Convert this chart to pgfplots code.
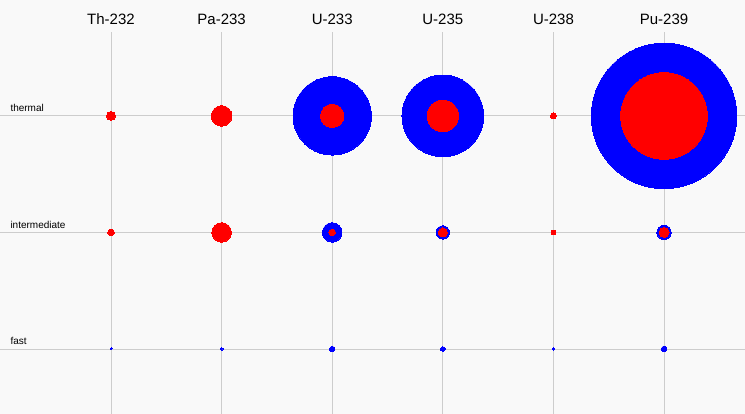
\documentclass[border=0pt]{standalone}
\usepackage{fontspec}
\setmainfont{Liberation Sans}
\usepackage{pgfplots}
\usepackage{pgfplotstable}
\pgfplotsset{compat=1.18}

% columns: 0=Th-232 1=Pa-233 2=U-233 3=U-235 4=U-238 5=Pu-239
% rows: 2=thermal 1=intermediate 0=fast ; r = circle radius
\pgfplotstableread{
x y r
2 2 39.3
3 2 41.0
5 2 73.0
2 1 9.8
3 1 6.7
5 1 7.2
0 0 1.0
1 0 1.6
2 0 2.7
3 0 2.3
4 0 1.3
5 0 2.8
}\fission
\pgfplotstableread{
x y r
0 2 4.5
1 2 10.3
2 2 11.7
3 2 15.8
4 2 3.0
5 2 43.5
0 1 3.3
1 1 9.8
2 1 3.3
3 1 4.5
4 1 2.3
5 1 5.0
}\capture

\definecolor{bg}{RGB}{249,249,249}
\definecolor{gridc}{RGB}{205,205,205}

\begin{document}
\begin{tikzpicture}
\fill[bg] (0,0) rectangle (745bp,414bp);
\begin{axis}[
  at={(0,0)}, anchor=south west,
  scale only axis, width=745bp, height=382bp,
  xmin=-1.0036, xmax=5.732,
  ymin=-0.558, ymax=2.72,
  axis line style={draw=none},
  major tick length=0pt,
  xtick={0,1,2,3,4,5},
  xticklabels={Th-232,Pa-233,U-233,U-235,U-238,Pu-239},
  xticklabel pos=right,
  x tick label style={font=\fontsize{15bp}{17bp}\selectfont, yshift=4bp},
  ytick={0,1,2}, yticklabels={},
  xmajorgrids, ymajorgrids,
  grid style={gridc, line width=0.9bp},
  clip=false,
]
\addplot[scatter, only marks, mark=*,
  mark options={line width=0pt},
  visualization depends on={\thisrow{r} \as \rad},
  scatter/use mapped color={draw=blue, fill=blue},
  scatter/@pre marker code/.append style={/tikz/mark size=\rad}]
  table[x=x, y=y] {\fission};
\addplot[scatter, only marks, mark=*,
  mark options={line width=0pt},
  visualization depends on={\thisrow{r} \as \rad},
  scatter/use mapped color={draw=red, fill=red},
  scatter/@pre marker code/.append style={/tikz/mark size=\rad}]
  table[x=x, y=y] {\capture};
\node[anchor=base west, font=\fontsize{10bp}{12bp}\selectfont, xshift=6.6bp, yshift=4bp] at (axis cs:-1,2) {thermal};
\node[anchor=base west, font=\fontsize{10bp}{12bp}\selectfont, xshift=6.6bp, yshift=4bp] at (axis cs:-1,1) {intermediate};
\node[anchor=base west, font=\fontsize{10bp}{12bp}\selectfont, xshift=6.6bp, yshift=4bp] at (axis cs:-1,0) {fast};
\end{axis}
\pgfresetboundingbox
\path (0,0) rectangle (745bp,414bp);
\end{tikzpicture}
\end{document}
